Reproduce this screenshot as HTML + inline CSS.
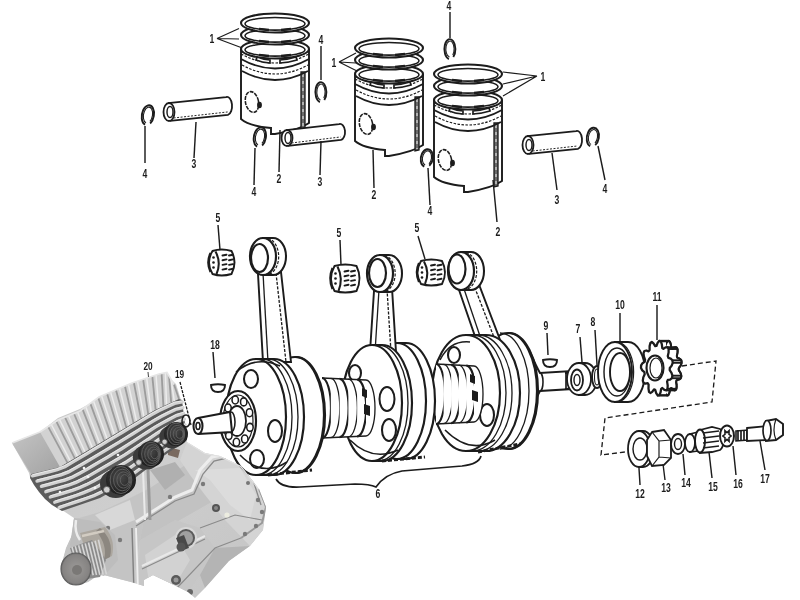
<!DOCTYPE html>
<html><head><meta charset="utf-8"><style>
html,body{margin:0;padding:0;background:#fff;width:800px;height:600px;overflow:hidden}
svg{display:block;will-change:transform}
.lb{font-family:"Liberation Sans",sans-serif;font-weight:bold;fill:#1c1c1c}
</style></head><body>
<svg width="800" height="600" viewBox="0 0 800 600">
<rect width="800" height="600" fill="#fff"/>
<g transform="translate(241,14)">
<path d="M0,35 L0,105 Q8,112 30,114 L30,120 L34,120 Q58,116 68,109 L68,35" stroke="#1c1c1c" stroke-width="1.92" fill="#fff" />
<path d="M60,58 L60,115 L64,114 L64,58 Z" fill="#6a6a6a" stroke="#1c1c1c" stroke-width="1.32"/>
<path d="M62,60 L62,113" stroke="#fff" stroke-width="0.96" stroke-dasharray="3 4"/>
<ellipse cx="34" cy="35" rx="34" ry="9.5" stroke="#1c1c1c" stroke-width="2.04" fill="#fff" />
<ellipse cx="34" cy="35.8" rx="30" ry="6.3" stroke="#1c1c1c" stroke-width="1.56" fill="none" />
<path d="M18,41 L28,42 M40,42 L50,41" stroke="#1c1c1c" stroke-width="2.40" fill="none" />
<path d="M0,40 Q34,58 68,40" stroke="#1c1c1c" stroke-width="1.20" fill="none" stroke-dasharray="2.5 1.5"/>
<path d="M0,45 Q34,64 68,45" stroke="#1c1c1c" stroke-width="1.80" fill="none" />
<path d="M1,51 Q34,69 67,51" stroke="#1c1c1c" stroke-width="1.20" fill="none" stroke-dasharray="2.5 1.5"/>
<path d="M1,57 Q34,75 67,57" stroke="#1c1c1c" stroke-width="1.80" fill="none" />
<path d="M16,43 Q22,45.5 29,46 L29,49 Q21,48.5 15,46 Z" stroke="#1c1c1c" stroke-width="1.68" fill="#fff" />
<path d="M39,46 Q47,45.5 55,43 L56,46 Q48,48.5 39,49 Z" stroke="#1c1c1c" stroke-width="1.68" fill="#fff" />
<ellipse cx="34" cy="21" rx="34" ry="9.5" stroke="#1c1c1c" stroke-width="2.04" fill="#fff" />
<ellipse cx="34" cy="21.8" rx="30" ry="6.3" stroke="#1c1c1c" stroke-width="1.56" fill="none" />
<path d="M18,27 L28,28 M40,28 L50,27" stroke="#1c1c1c" stroke-width="2.40" fill="none" />
<ellipse cx="34" cy="9" rx="34" ry="9.5" stroke="#1c1c1c" stroke-width="2.04" fill="#fff" />
<ellipse cx="34" cy="9.8" rx="30" ry="6.3" stroke="#1c1c1c" stroke-width="1.56" fill="none" />
<path d="M18,15 L28,16 M40,16 L50,15" stroke="#1c1c1c" stroke-width="2.40" fill="none" />
<ellipse cx="11" cy="88" rx="6.5" ry="10.5" stroke="#1c1c1c" stroke-width="1.56" fill="#fff" transform="rotate(-12 11 88)" stroke-dasharray="4 1"/>
<ellipse cx="18.5" cy="91" rx="1.8" ry="2.6" stroke="#1c1c1c" stroke-width="1.20" fill="#1c1c1c" />
</g>
<g transform="translate(355,39)">
<path d="M0,35 L0,102 Q8,109 30,111 L30,117 L34,117 Q58,113 68,106 L68,35" stroke="#1c1c1c" stroke-width="1.92" fill="#fff" />
<path d="M60,58 L60,112 L64,111 L64,58 Z" fill="#6a6a6a" stroke="#1c1c1c" stroke-width="1.32"/>
<path d="M62,60 L62,110" stroke="#fff" stroke-width="0.96" stroke-dasharray="3 4"/>
<ellipse cx="34" cy="35" rx="34" ry="9.5" stroke="#1c1c1c" stroke-width="2.04" fill="#fff" />
<ellipse cx="34" cy="35.8" rx="30" ry="6.3" stroke="#1c1c1c" stroke-width="1.56" fill="none" />
<path d="M18,41 L28,42 M40,42 L50,41" stroke="#1c1c1c" stroke-width="2.40" fill="none" />
<path d="M0,40 Q34,58 68,40" stroke="#1c1c1c" stroke-width="1.20" fill="none" stroke-dasharray="2.5 1.5"/>
<path d="M0,45 Q34,64 68,45" stroke="#1c1c1c" stroke-width="1.80" fill="none" />
<path d="M1,51 Q34,69 67,51" stroke="#1c1c1c" stroke-width="1.20" fill="none" stroke-dasharray="2.5 1.5"/>
<path d="M1,57 Q34,75 67,57" stroke="#1c1c1c" stroke-width="1.80" fill="none" />
<path d="M16,43 Q22,45.5 29,46 L29,49 Q21,48.5 15,46 Z" stroke="#1c1c1c" stroke-width="1.68" fill="#fff" />
<path d="M39,46 Q47,45.5 55,43 L56,46 Q48,48.5 39,49 Z" stroke="#1c1c1c" stroke-width="1.68" fill="#fff" />
<ellipse cx="34" cy="21" rx="34" ry="9.5" stroke="#1c1c1c" stroke-width="2.04" fill="#fff" />
<ellipse cx="34" cy="21.8" rx="30" ry="6.3" stroke="#1c1c1c" stroke-width="1.56" fill="none" />
<path d="M18,27 L28,28 M40,28 L50,27" stroke="#1c1c1c" stroke-width="2.40" fill="none" />
<ellipse cx="34" cy="9" rx="34" ry="9.5" stroke="#1c1c1c" stroke-width="2.04" fill="#fff" />
<ellipse cx="34" cy="9.8" rx="30" ry="6.3" stroke="#1c1c1c" stroke-width="1.56" fill="none" />
<path d="M18,15 L28,16 M40,16 L50,15" stroke="#1c1c1c" stroke-width="2.40" fill="none" />
<ellipse cx="11" cy="85" rx="6.5" ry="10.5" stroke="#1c1c1c" stroke-width="1.56" fill="#fff" transform="rotate(-12 11 85)" stroke-dasharray="4 1"/>
<ellipse cx="18.5" cy="88" rx="1.8" ry="2.6" stroke="#1c1c1c" stroke-width="1.20" fill="#1c1c1c" />
</g>
<g transform="translate(434,65)">
<path d="M0,35 L0,112 Q8,119 30,121 L30,127 L34,127 Q58,123 68,116 L68,35" stroke="#1c1c1c" stroke-width="1.92" fill="#fff" />
<path d="M60,58 L60,122 L64,121 L64,58 Z" fill="#6a6a6a" stroke="#1c1c1c" stroke-width="1.32"/>
<path d="M62,60 L62,120" stroke="#fff" stroke-width="0.96" stroke-dasharray="3 4"/>
<ellipse cx="34" cy="35" rx="34" ry="9.5" stroke="#1c1c1c" stroke-width="2.04" fill="#fff" />
<ellipse cx="34" cy="35.8" rx="30" ry="6.3" stroke="#1c1c1c" stroke-width="1.56" fill="none" />
<path d="M18,41 L28,42 M40,42 L50,41" stroke="#1c1c1c" stroke-width="2.40" fill="none" />
<path d="M0,40 Q34,58 68,40" stroke="#1c1c1c" stroke-width="1.20" fill="none" stroke-dasharray="2.5 1.5"/>
<path d="M0,45 Q34,64 68,45" stroke="#1c1c1c" stroke-width="1.80" fill="none" />
<path d="M1,51 Q34,69 67,51" stroke="#1c1c1c" stroke-width="1.20" fill="none" stroke-dasharray="2.5 1.5"/>
<path d="M1,57 Q34,75 67,57" stroke="#1c1c1c" stroke-width="1.80" fill="none" />
<path d="M16,43 Q22,45.5 29,46 L29,49 Q21,48.5 15,46 Z" stroke="#1c1c1c" stroke-width="1.68" fill="#fff" />
<path d="M39,46 Q47,45.5 55,43 L56,46 Q48,48.5 39,49 Z" stroke="#1c1c1c" stroke-width="1.68" fill="#fff" />
<ellipse cx="34" cy="21" rx="34" ry="9.5" stroke="#1c1c1c" stroke-width="2.04" fill="#fff" />
<ellipse cx="34" cy="21.8" rx="30" ry="6.3" stroke="#1c1c1c" stroke-width="1.56" fill="none" />
<path d="M18,27 L28,28 M40,28 L50,27" stroke="#1c1c1c" stroke-width="2.40" fill="none" />
<ellipse cx="34" cy="9" rx="34" ry="9.5" stroke="#1c1c1c" stroke-width="2.04" fill="#fff" />
<ellipse cx="34" cy="9.8" rx="30" ry="6.3" stroke="#1c1c1c" stroke-width="1.56" fill="none" />
<path d="M18,15 L28,16 M40,16 L50,15" stroke="#1c1c1c" stroke-width="2.40" fill="none" />
<ellipse cx="11" cy="95" rx="6.5" ry="10.5" stroke="#1c1c1c" stroke-width="1.56" fill="#fff" transform="rotate(-12 11 95)" stroke-dasharray="4 1"/>
<ellipse cx="18.5" cy="98" rx="1.8" ry="2.6" stroke="#1c1c1c" stroke-width="1.20" fill="#1c1c1c" />
</g>
<text transform="translate(212,42.5) scale(0.72,1)" font-size="12" text-anchor="middle" class="lb">1</text>
<path d="M217,38.5 L239,28.5 M217,38.5 L239,39 M217,38.5 L241,47.5" stroke="#1c1c1c" stroke-width="1.20" fill="none" />
<text transform="translate(334,66.5) scale(0.72,1)" font-size="12" text-anchor="middle" class="lb">1</text>
<path d="M339,62 L356,53 M339,62 L356,63 M339,62 L357,71" stroke="#1c1c1c" stroke-width="1.20" fill="none" />
<text transform="translate(543,81) scale(0.72,1)" font-size="12" text-anchor="middle" class="lb">1</text>
<path d="M537,76 L503,72 M537,76 L503,84 M537,76 L503,96" stroke="#1c1c1c" stroke-width="1.20" fill="none" />
<path d="M146.8,125 A6,10 0 1 1 151.6,123.0" transform="rotate(10 148 115)" stroke="#1c1c1c" stroke-width="1.92" fill="none"/>
<path d="M147.4,123.0 A4.5,8.0 0 1 1 151.0,121.0" transform="rotate(10 148 115)" stroke="#1c1c1c" stroke-width="1.08" fill="none"/>
<line x1="145" y1="126" x2="145" y2="163" stroke="#1c1c1c" stroke-width="1.44"/>
<text transform="translate(145,178) scale(0.72,1)" font-size="12" text-anchor="middle" class="lb">4</text>
<path d="M258.8,147 A6,10 0 1 1 263.6,145.0" transform="rotate(10 260 137)" stroke="#1c1c1c" stroke-width="1.92" fill="none"/>
<path d="M259.4,145.0 A4.5,8.0 0 1 1 263.0,143.0" transform="rotate(10 260 137)" stroke="#1c1c1c" stroke-width="1.08" fill="none"/>
<line x1="255" y1="148" x2="254" y2="185" stroke="#1c1c1c" stroke-width="1.44"/>
<text transform="translate(254,196) scale(0.72,1)" font-size="12" text-anchor="middle" class="lb">4</text>
<path d="M319.9,102 A5.5,10 0 1 1 324.3,100.0" transform="rotate(0 321 92)" stroke="#1c1c1c" stroke-width="1.92" fill="none"/>
<path d="M320.45,100.0 A4.125,8.0 0 1 1 323.75,98.0" transform="rotate(0 321 92)" stroke="#1c1c1c" stroke-width="1.08" fill="none"/>
<line x1="321" y1="46" x2="321" y2="80" stroke="#1c1c1c" stroke-width="1.44"/>
<text transform="translate(321,44) scale(0.72,1)" font-size="12" text-anchor="middle" class="lb">4</text>
<path d="M448.9,59 A5.5,10 0 1 1 453.3,57.0" transform="rotate(0 450 49)" stroke="#1c1c1c" stroke-width="1.92" fill="none"/>
<path d="M449.45,57.0 A4.125,8.0 0 1 1 452.75,55.0" transform="rotate(0 450 49)" stroke="#1c1c1c" stroke-width="1.08" fill="none"/>
<line x1="450" y1="12" x2="450" y2="38" stroke="#1c1c1c" stroke-width="1.44"/>
<text transform="translate(449,10) scale(0.72,1)" font-size="12" text-anchor="middle" class="lb">4</text>
<path d="M425.8,167 A6,9 0 1 1 430.6,165.2" transform="rotate(10 427 158)" stroke="#1c1c1c" stroke-width="1.92" fill="none"/>
<path d="M426.4,165.2 A4.5,7.2 0 1 1 430.0,163.4" transform="rotate(10 427 158)" stroke="#1c1c1c" stroke-width="1.08" fill="none"/>
<line x1="428" y1="168" x2="430" y2="205" stroke="#1c1c1c" stroke-width="1.44"/>
<text transform="translate(430,215) scale(0.72,1)" font-size="12" text-anchor="middle" class="lb">4</text>
<path d="M591.8,146.5 A6,9.5 0 1 1 596.6,144.6" transform="rotate(10 593 137)" stroke="#1c1c1c" stroke-width="1.92" fill="none"/>
<path d="M592.4,144.6 A4.5,7.6000000000000005 0 1 1 596.0,142.7" transform="rotate(10 593 137)" stroke="#1c1c1c" stroke-width="1.08" fill="none"/>
<line x1="598" y1="146" x2="605" y2="180" stroke="#1c1c1c" stroke-width="1.44"/>
<text transform="translate(605,193) scale(0.72,1)" font-size="12" text-anchor="middle" class="lb">4</text>
<path d="M168.07390764023046,103.04777385556103 L226.07390764023046,97.04777385556103 A5,9 0 0 1 227.92609235976954,114.95222614443897 L169.92609235976954,120.95222614443897" stroke="#1c1c1c" stroke-width="1.80" fill="#fff"/>
<ellipse cx="169" cy="112" rx="5.5" ry="9" stroke="#1c1c1c" stroke-width="1.80" fill="#fff" />
<ellipse cx="170" cy="112" rx="3" ry="5.5" stroke="#1c1c1c" stroke-width="1.44" fill="#fff" />
<path d="M173.61739490651303,117.96815076295931 L227.61739490651303,111.96815076295931" stroke="#1c1c1c" stroke-width="0.96" stroke-dasharray="2 1.5" fill="none"/>
<line x1="196" y1="122" x2="194" y2="158" stroke="#1c1c1c" stroke-width="1.44"/>
<text transform="translate(194,168) scale(0.72,1)" font-size="12" text-anchor="middle" class="lb">3</text>
<path d="M286.1000878777525,130.05077625348034 L339.1000878777525,124.05077625348035 A5,8 0 0 1 340.8999121222475,139.94922374651966 L287.8999121222475,145.94922374651966" stroke="#1c1c1c" stroke-width="1.80" fill="#fff"/>
<ellipse cx="287" cy="138" rx="5.5" ry="8" stroke="#1c1c1c" stroke-width="1.80" fill="#fff" />
<ellipse cx="288" cy="138" rx="3" ry="5.5" stroke="#1c1c1c" stroke-width="1.44" fill="#fff" />
<path d="M291.5624450764047,142.96826484157478 L340.5624450764047,136.96826484157478" stroke="#1c1c1c" stroke-width="0.96" stroke-dasharray="2 1.5" fill="none"/>
<line x1="321" y1="141" x2="320" y2="175" stroke="#1c1c1c" stroke-width="1.44"/>
<text transform="translate(320,186) scale(0.72,1)" font-size="12" text-anchor="middle" class="lb">3</text>
<path d="M527.0863768078794,136.0464927172186 L576.0863768078794,131.0464927172186 A5,9 0 0 1 577.9136231921206,148.9535072827814 L528.9136231921206,153.9535072827814" stroke="#1c1c1c" stroke-width="1.80" fill="#fff"/>
<ellipse cx="528" cy="145" rx="5.5" ry="9" stroke="#1c1c1c" stroke-width="1.80" fill="#fff" />
<ellipse cx="529" cy="145" rx="3" ry="5.5" stroke="#1c1c1c" stroke-width="1.44" fill="#fff" />
<path d="M532.6090821280803,150.9690048551876 L577.6090821280803,145.9690048551876" stroke="#1c1c1c" stroke-width="0.96" stroke-dasharray="2 1.5" fill="none"/>
<line x1="552" y1="153" x2="557" y2="190" stroke="#1c1c1c" stroke-width="1.44"/>
<text transform="translate(557,204) scale(0.72,1)" font-size="12" text-anchor="middle" class="lb">3</text>
<line x1="280" y1="130" x2="279" y2="172" stroke="#1c1c1c" stroke-width="1.44"/>
<text transform="translate(279,183) scale(0.72,1)" font-size="12" text-anchor="middle" class="lb">2</text>
<line x1="373" y1="150" x2="374" y2="188" stroke="#1c1c1c" stroke-width="1.44"/>
<text transform="translate(374,199) scale(0.72,1)" font-size="12" text-anchor="middle" class="lb">2</text>
<line x1="493" y1="180" x2="497" y2="222" stroke="#1c1c1c" stroke-width="1.44"/>
<text transform="translate(498,236) scale(0.72,1)" font-size="12" text-anchor="middle" class="lb">2</text>
<path d="M530,352 Q536,366 540,373 L572,371 L572,389 L540,391 Q536,398 530,415 Z" stroke="#1c1c1c" stroke-width="1.92" fill="#fff"/>
<path d="M540,373 A3,9 0 0 1 540,391" stroke="#1c1c1c" stroke-width="1.56" fill="none"/>
<path d="M565,373 L580,372 L580,388 L565,389" stroke="#1c1c1c" stroke-width="1.80" fill="#fff"/>
<line x1="566" y1="373" x2="566" y2="388" stroke="#1c1c1c" stroke-width="1.68"/>
<line x1="569" y1="373" x2="569" y2="388" stroke="#1c1c1c" stroke-width="1.68"/>
<line x1="572" y1="373" x2="572" y2="388" stroke="#1c1c1c" stroke-width="1.68"/>
<line x1="575" y1="373" x2="575" y2="388" stroke="#1c1c1c" stroke-width="1.68"/>
<line x1="578" y1="373" x2="578" y2="388" stroke="#1c1c1c" stroke-width="1.68"/>
<path d="M508,333 L509,333 A29,58 0 0 1 509,449 L508,449 A29,58 0 0 1 508,333 Z" stroke="#1c1c1c" stroke-width="2.16" fill="#fff"/>
<path d="M508,333 A29,58 0 0 1 508,449" stroke="#1c1c1c" stroke-width="2.16" fill="none"/>
<path d="M500,333 A29,58 0 0 1 500,449" stroke="#1c1c1c" stroke-width="1.32" fill="none"/>
<path d="M458,287 L478,345 L502,345 L478,282 Z" stroke="#1c1c1c" stroke-width="1.92" fill="#fff"/>
<path d="M463,286 L483,345" stroke="#1c1c1c" stroke-width="1.32" fill="none"/>
<path d="M473,283 L497,345" stroke="#1c1c1c" stroke-width="1.32" fill="none" stroke-dasharray="3 1.5"/>
<path d="M461,252 L471,252 A13,19 0 0 1 471,290 L461,290 Z" stroke="#1c1c1c" stroke-width="2.04" fill="#fff"/>
<path d="M466.0,252.3 A13,19 0 0 1 466.0,289.7" stroke="#1c1c1c" stroke-width="1.20" fill="none" stroke-dasharray="3 1.5"/>
<ellipse cx="461" cy="271" rx="13" ry="19" stroke="#1c1c1c" stroke-width="2.16" fill="#fff" />
<ellipse cx="457" cy="269" rx="8.5" ry="14.5" stroke="#1c1c1c" stroke-width="2.16" fill="#fff" />
<path d="M466,335 L486,335 A34,58 0 0 1 486,451 L466,451 A34,58 0 0 1 466,335 Z" stroke="#1c1c1c" stroke-width="2.16" fill="#fff"/>
<path d="M466,335 A34,58 0 0 1 466,451" stroke="#1c1c1c" stroke-width="2.16" fill="none"/>
<path d="M472,335 A34,58 0 0 1 472,451" stroke="#1c1c1c" stroke-width="1.32" fill="none"/>
<path d="M478,335 A34,58 0 0 1 478,451" stroke="#1c1c1c" stroke-width="1.32" fill="none"/>
<path d="M478,452 L520,444" stroke="#1c1c1c" stroke-width="2.88" stroke-dasharray="4 2" fill="none"/>
<ellipse cx="454" cy="355" rx="6" ry="8" stroke="#1c1c1c" stroke-width="2.04" fill="#fff" />
<ellipse cx="487" cy="415" rx="7" ry="11" stroke="#1c1c1c" stroke-width="2.04" fill="#fff" />
<path d="M440,360 Q450,340 470,342" stroke="#1c1c1c" stroke-width="1.56" fill="none"/>
<path d="M445,430 Q470,455 495,440" stroke="#1c1c1c" stroke-width="1.56" fill="none"/>
<path d="M436,364 L474,366 L474,422 L436,424 Z" fill="#fff" stroke="none"/>
<path d="M436.0,364.0 A9,30.0 0 0 1 436.0,424.0" stroke="#1c1c1c" stroke-width="2.16" fill="#fff"/>
<path d="M443.6,364.4 A9,29.6 0 0 1 443.6,423.6" stroke="#1c1c1c" stroke-width="1.32" fill="#fff"/>
<path d="M451.2,364.8 A9,29.2 0 0 1 451.2,423.2" stroke="#1c1c1c" stroke-width="2.16" fill="#fff"/>
<path d="M458.8,365.2 A9,28.8 0 0 1 458.8,422.8" stroke="#1c1c1c" stroke-width="1.32" fill="#fff"/>
<path d="M466.4,365.6 A9,28.4 0 0 1 466.4,422.4" stroke="#1c1c1c" stroke-width="2.16" fill="#fff"/>
<path d="M474.0,366.0 A9,28.0 0 0 1 474.0,422.0" stroke="#1c1c1c" stroke-width="1.32" fill="#fff"/>
<path d="M436,364 L474,366 M436,424 L474,422" stroke="#1c1c1c" stroke-width="1.68" fill="none"/>
<path d="M470,374 l5,2 l0,8 l-5,-2 Z M472,390 l6,2 l0,10 l-6,-2 Z" fill="#1c1c1c"/>
<path d="M397,343 L406,343 A29,58 0 0 1 406,459 L397,459 A29,58 0 0 1 397,343 Z" stroke="#1c1c1c" stroke-width="2.16" fill="#fff"/>
<path d="M397,343 A29,58 0 0 1 397,459" stroke="#1c1c1c" stroke-width="2.16" fill="none"/>
<path d="M374,291 L370,352 L396,352 L392,288 Z" stroke="#1c1c1c" stroke-width="1.92" fill="#fff"/>
<path d="M379,290 L375,352" stroke="#1c1c1c" stroke-width="1.32" fill="none"/>
<path d="M387,289 L391,352" stroke="#1c1c1c" stroke-width="1.32" fill="none" stroke-dasharray="3 1.5"/>
<path d="M380,255.0 L389,255.0 A13,18.5 0 0 1 389,292.0 L380,292.0 Z" stroke="#1c1c1c" stroke-width="2.04" fill="#fff"/>
<path d="M384.5,255.3 A13,18.5 0 0 1 384.5,291.7" stroke="#1c1c1c" stroke-width="1.20" fill="none" stroke-dasharray="3 1.5"/>
<ellipse cx="380" cy="273.5" rx="13" ry="18.5" stroke="#1c1c1c" stroke-width="2.16" fill="#fff" />
<ellipse cx="377.5" cy="273" rx="8.5" ry="14" stroke="#1c1c1c" stroke-width="2.16" fill="#fff" />
<path d="M372,345 L382,345 A30,58 0 0 1 382,461 L372,461 A30,58 0 0 1 372,345 Z" stroke="#1c1c1c" stroke-width="2.16" fill="#fff"/>
<path d="M372,345 A30,58 0 0 1 372,461" stroke="#1c1c1c" stroke-width="2.16" fill="none"/>
<path d="M378,345 A30,58 0 0 1 378,461" stroke="#1c1c1c" stroke-width="1.32" fill="none"/>
<path d="M382,461 L425,457" stroke="#1c1c1c" stroke-width="2.88" stroke-dasharray="4 2" fill="none"/>
<ellipse cx="355" cy="373" rx="6" ry="8" stroke="#1c1c1c" stroke-width="2.04" fill="#fff" />
<ellipse cx="387" cy="399" rx="7.5" ry="12" stroke="#1c1c1c" stroke-width="2.04" fill="#fff" />
<ellipse cx="389" cy="430" rx="7" ry="11" stroke="#1c1c1c" stroke-width="2.04" fill="#fff" />
<path d="M350,440 Q372,462 398,450" stroke="#1c1c1c" stroke-width="1.56" fill="none"/>
<path d="M322,378 L366,380 L366,436 L322,438 Z" fill="#fff" stroke="none"/>
<path d="M322.0,378.0 A9,30.0 0 0 1 322.0,438.0" stroke="#1c1c1c" stroke-width="2.16" fill="#fff"/>
<path d="M330.8,378.4 A9,29.6 0 0 1 330.8,437.6" stroke="#1c1c1c" stroke-width="1.32" fill="#fff"/>
<path d="M339.6,378.8 A9,29.2 0 0 1 339.6,437.2" stroke="#1c1c1c" stroke-width="2.16" fill="#fff"/>
<path d="M348.4,379.2 A9,28.8 0 0 1 348.4,436.8" stroke="#1c1c1c" stroke-width="1.32" fill="#fff"/>
<path d="M357.2,379.6 A9,28.4 0 0 1 357.2,436.4" stroke="#1c1c1c" stroke-width="2.16" fill="#fff"/>
<path d="M366.0,380.0 A9,28.0 0 0 1 366.0,436.0" stroke="#1c1c1c" stroke-width="1.32" fill="#fff"/>
<path d="M322,378 L366,380 M322,438 L366,436" stroke="#1c1c1c" stroke-width="1.68" fill="none"/>
<path d="M362,388 l5,2 l0,8 l-5,-2 Z M364,404 l6,2 l0,10 l-6,-2 Z" fill="#1c1c1c"/>
<path d="M295,357 L296,357 A29,58 0 0 1 296,473 L295,473 A29,58 0 0 1 295,357 Z" stroke="#1c1c1c" stroke-width="2.16" fill="#fff"/>
<path d="M295,357 A29,58 0 0 1 295,473" stroke="#1c1c1c" stroke-width="2.16" fill="none"/>
<path d="M258,274 L263,362 L291,362 L281,272 Z" stroke="#1c1c1c" stroke-width="1.92" fill="#fff"/>
<path d="M263,273 L268,362" stroke="#1c1c1c" stroke-width="1.32" fill="none"/>
<path d="M276,273 L286,362" stroke="#1c1c1c" stroke-width="1.32" fill="none" stroke-dasharray="3 1.5"/>
<path d="M263,238.0 L273,238.0 A13,18.5 0 0 1 273,275.0 L263,275.0 Z" stroke="#1c1c1c" stroke-width="2.04" fill="#fff"/>
<path d="M268.0,238.3 A13,18.5 0 0 1 268.0,274.7" stroke="#1c1c1c" stroke-width="1.20" fill="none" stroke-dasharray="3 1.5"/>
<ellipse cx="263" cy="256.5" rx="13" ry="18.5" stroke="#1c1c1c" stroke-width="2.16" fill="#fff" />
<ellipse cx="259.5" cy="258" rx="8.5" ry="14" stroke="#1c1c1c" stroke-width="2.16" fill="#fff" />
<path d="M256,359 L274,359 A30,58 0 0 1 274,475 L256,475 A30,58 0 0 1 256,359 Z" stroke="#1c1c1c" stroke-width="2.16" fill="#fff"/>
<path d="M256,359 A30,58 0 0 1 256,475" stroke="#1c1c1c" stroke-width="2.16" fill="none"/>
<path d="M262,359 A30,58 0 0 1 262,475" stroke="#1c1c1c" stroke-width="1.32" fill="none"/>
<path d="M268,359 A30,58 0 0 1 268,475" stroke="#1c1c1c" stroke-width="1.32" fill="none"/>
<path d="M268,475 L312,470" stroke="#1c1c1c" stroke-width="2.88" stroke-dasharray="4 2" fill="none"/>
<ellipse cx="251" cy="379" rx="7" ry="9" stroke="#1c1c1c" stroke-width="2.04" fill="#fff" />
<ellipse cx="275" cy="431" rx="7" ry="11" stroke="#1c1c1c" stroke-width="2.04" fill="#fff" />
<ellipse cx="257" cy="459" rx="7" ry="9" stroke="#1c1c1c" stroke-width="2.04" fill="#fff" />
<path d="M236,372 Q256,355 280,366" stroke="#1c1c1c" stroke-width="1.56" fill="none"/>
<path d="M240,455 Q262,478 287,462" stroke="#1c1c1c" stroke-width="1.56" fill="none"/>
<ellipse cx="238" cy="421" rx="18" ry="30" stroke="#1c1c1c" stroke-width="2.16" fill="#fff" />
<ellipse cx="238" cy="421" rx="15" ry="26" stroke="#1c1c1c" stroke-width="1.20" fill="none" />
<ellipse cx="249.9417061140701" cy="427.3536844432188" rx="3.2" ry="4" stroke="#1c1c1c" stroke-width="1.56" fill="#fff" />
<ellipse cx="244.7734185193694" cy="439.0698915143239" rx="3.2" ry="4" stroke="#1c1c1c" stroke-width="1.56" fill="#fff" />
<ellipse cx="236.4357731212941" cy="442.33099552140243" rx="3.2" ry="4" stroke="#1c1c1c" stroke-width="1.56" fill="#fff" />
<ellipse cx="228.83004686421063" cy="435.61108965640835" rx="3.2" ry="4" stroke="#1c1c1c" stroke-width="1.56" fill="#fff" />
<ellipse cx="225.51504359204012" cy="422.05449255700717" rx="3.2" ry="4" stroke="#1c1c1c" stroke-width="1.56" fill="#fff" />
<ellipse cx="228.04189017798868" cy="408.004486670803" rx="3.2" ry="4" stroke="#1c1c1c" stroke-width="1.56" fill="#fff" />
<ellipse cx="235.22824702171928" cy="400.0352259003729" rx="3.2" ry="4" stroke="#1c1c1c" stroke-width="1.56" fill="#fff" />
<ellipse cx="243.71153788859053" cy="401.87561592866894" rx="3.2" ry="4" stroke="#1c1c1c" stroke-width="1.56" fill="#fff" />
<ellipse cx="249.52233670071723" cy="412.6645178077946" rx="3.2" ry="4" stroke="#1c1c1c" stroke-width="1.56" fill="#fff" />
<ellipse cx="237" cy="421" rx="9" ry="15" stroke="#1c1c1c" stroke-width="1.80" fill="#fff" />
<path d="M198,418 L230,412 L232,432 L198,434" stroke="#1c1c1c" stroke-width="2.04" fill="#fff"/>
<path d="M231,412 A4,10 0 0 1 231,432" stroke="#1c1c1c" stroke-width="1.56" fill="none"/>
<ellipse cx="198" cy="426" rx="4.5" ry="8" stroke="#1c1c1c" stroke-width="2.04" fill="#fff" />
<ellipse cx="198" cy="426" rx="2" ry="3.5" stroke="#1c1c1c" stroke-width="1.56" fill="#fff" />
<path d="M212.5,251.0 Q221.5,248.0 231.5,251.0 Q237.5,262.5 231.5,274.0 Q221.5,277.0 212.5,274.0 Q205.5,262.5 212.5,251.0 Z" stroke="#1c1c1c" stroke-width="1.92" fill="#fff"/>
<path d="M210.5,253.0 Q206.0,262.5 210.5,272.0" stroke="#1c1c1c" stroke-width="2.16" fill="none"/>
<path d="M215.5,251.5 Q221.5,262.5 216.5,274.0" stroke="#1c1c1c" stroke-width="2.04" fill="none"/>
<circle cx="213.5" cy="257.5" r="1.3" fill="#1c1c1c"/>
<circle cx="213.5" cy="262.5" r="1.3" fill="#1c1c1c"/>
<circle cx="213.5" cy="267.5" r="1.3" fill="#1c1c1c"/>
<path d="M222.5,255.5 l4,-0.8" stroke="#1c1c1c" stroke-width="1.92" stroke-linecap="round"/>
<path d="M229.0,255.5 l4,-0.8" stroke="#1c1c1c" stroke-width="1.92" stroke-linecap="round"/>
<path d="M222.5,260.2 l4,-0.8" stroke="#1c1c1c" stroke-width="1.92" stroke-linecap="round"/>
<path d="M229.0,260.2 l4,-0.8" stroke="#1c1c1c" stroke-width="1.92" stroke-linecap="round"/>
<path d="M222.5,264.9 l4,-0.8" stroke="#1c1c1c" stroke-width="1.92" stroke-linecap="round"/>
<path d="M229.0,264.9 l4,-0.8" stroke="#1c1c1c" stroke-width="1.92" stroke-linecap="round"/>
<path d="M222.5,269.6 l4,-0.8" stroke="#1c1c1c" stroke-width="1.92" stroke-linecap="round"/>
<path d="M229.0,269.6 l4,-0.8" stroke="#1c1c1c" stroke-width="1.92" stroke-linecap="round"/>
<line x1="218" y1="225" x2="220" y2="250" stroke="#1c1c1c" stroke-width="1.44"/>
<text transform="translate(218,222) scale(0.72,1)" font-size="12" text-anchor="middle" class="lb">5</text>
<path d="M334.5,266.0 Q345,263.0 356.5,266.0 Q362.5,278.5 356.5,291.0 Q345,294.0 334.5,291.0 Q327.5,278.5 334.5,266.0 Z" stroke="#1c1c1c" stroke-width="1.92" fill="#fff"/>
<path d="M332.5,268.0 Q328.0,278.5 332.5,289.0" stroke="#1c1c1c" stroke-width="2.16" fill="none"/>
<path d="M337.5,266.5 Q343.5,278.5 338.5,291.0" stroke="#1c1c1c" stroke-width="2.04" fill="none"/>
<circle cx="335.5" cy="273.5" r="1.3" fill="#1c1c1c"/>
<circle cx="335.5" cy="278.5" r="1.3" fill="#1c1c1c"/>
<circle cx="335.5" cy="283.5" r="1.3" fill="#1c1c1c"/>
<path d="M344.5,271.5 l4,-0.8" stroke="#1c1c1c" stroke-width="1.92" stroke-linecap="round"/>
<path d="M351.0,271.5 l4,-0.8" stroke="#1c1c1c" stroke-width="1.92" stroke-linecap="round"/>
<path d="M344.5,276.2 l4,-0.8" stroke="#1c1c1c" stroke-width="1.92" stroke-linecap="round"/>
<path d="M351.0,276.2 l4,-0.8" stroke="#1c1c1c" stroke-width="1.92" stroke-linecap="round"/>
<path d="M344.5,280.9 l4,-0.8" stroke="#1c1c1c" stroke-width="1.92" stroke-linecap="round"/>
<path d="M351.0,280.9 l4,-0.8" stroke="#1c1c1c" stroke-width="1.92" stroke-linecap="round"/>
<path d="M344.5,285.6 l4,-0.8" stroke="#1c1c1c" stroke-width="1.92" stroke-linecap="round"/>
<path d="M351.0,285.6 l4,-0.8" stroke="#1c1c1c" stroke-width="1.92" stroke-linecap="round"/>
<line x1="340" y1="240" x2="341" y2="265" stroke="#1c1c1c" stroke-width="1.44"/>
<text transform="translate(339,237) scale(0.72,1)" font-size="12" text-anchor="middle" class="lb">5</text>
<path d="M421.0,261.0 Q431,258.0 442.0,261.0 Q448.0,272.5 442.0,284.0 Q431,287.0 421.0,284.0 Q414.0,272.5 421.0,261.0 Z" stroke="#1c1c1c" stroke-width="1.92" fill="#fff"/>
<path d="M419.0,263.0 Q414.5,272.5 419.0,282.0" stroke="#1c1c1c" stroke-width="2.16" fill="none"/>
<path d="M424.0,261.5 Q430.0,272.5 425.0,284.0" stroke="#1c1c1c" stroke-width="2.04" fill="none"/>
<circle cx="422.0" cy="267.5" r="1.3" fill="#1c1c1c"/>
<circle cx="422.0" cy="272.5" r="1.3" fill="#1c1c1c"/>
<circle cx="422.0" cy="277.5" r="1.3" fill="#1c1c1c"/>
<path d="M431.0,265.5 l4,-0.8" stroke="#1c1c1c" stroke-width="1.92" stroke-linecap="round"/>
<path d="M437.5,265.5 l4,-0.8" stroke="#1c1c1c" stroke-width="1.92" stroke-linecap="round"/>
<path d="M431.0,270.2 l4,-0.8" stroke="#1c1c1c" stroke-width="1.92" stroke-linecap="round"/>
<path d="M437.5,270.2 l4,-0.8" stroke="#1c1c1c" stroke-width="1.92" stroke-linecap="round"/>
<path d="M431.0,274.9 l4,-0.8" stroke="#1c1c1c" stroke-width="1.92" stroke-linecap="round"/>
<path d="M437.5,274.9 l4,-0.8" stroke="#1c1c1c" stroke-width="1.92" stroke-linecap="round"/>
<path d="M431.0,279.6 l4,-0.8" stroke="#1c1c1c" stroke-width="1.92" stroke-linecap="round"/>
<path d="M437.5,279.6 l4,-0.8" stroke="#1c1c1c" stroke-width="1.92" stroke-linecap="round"/>
<line x1="418" y1="236" x2="425" y2="259" stroke="#1c1c1c" stroke-width="1.44"/>
<text transform="translate(417,232) scale(0.72,1)" font-size="12" text-anchor="middle" class="lb">5</text>
<path d="M211,385 Q218,383.5 225,385 Q225,392 218,392 Q211,392 211,385 Z" stroke="#1c1c1c" stroke-width="1.92" fill="#fff" />
<line x1="213" y1="352" x2="215" y2="378" stroke="#1c1c1c" stroke-width="1.44"/>
<text transform="translate(215,349) scale(0.72,1)" font-size="12" text-anchor="middle" class="lb">18</text>
<path d="M543,360 Q550,358.5 557,360 Q557,367 550,367 Q543,367 543,360 Z" stroke="#1c1c1c" stroke-width="1.92" fill="#fff" />
<line x1="547" y1="333" x2="548" y2="355" stroke="#1c1c1c" stroke-width="1.44"/>
<text transform="translate(546,330) scale(0.72,1)" font-size="12" text-anchor="middle" class="lb">9</text>
<path d="M276,479 Q281,488 300,487 L355,484 Q370,484 376,487 Q385,474 402,471 L462,466 Q479,464 481,456" stroke="#1c1c1c" stroke-width="1.68" fill="none" />
<text transform="translate(378,498) scale(0.72,1)" font-size="12" text-anchor="middle" class="lb">6</text>
<path d="M579,363 L585,363 A12,16 0 0 1 585,395 L579,395 Z" stroke="#1c1c1c" stroke-width="1.80" fill="#fff"/>
<ellipse cx="579" cy="379" rx="12" ry="16" stroke="#1c1c1c" stroke-width="1.80" fill="#fff" />
<ellipse cx="577" cy="380" rx="6" ry="10.5" stroke="#1c1c1c" stroke-width="1.80" fill="#fff" />
<ellipse cx="577" cy="380" rx="3" ry="5.5" stroke="#1c1c1c" stroke-width="1.44" fill="#fff" />
<line x1="580" y1="337" x2="582" y2="362" stroke="#1c1c1c" stroke-width="1.44"/>
<text transform="translate(578,333) scale(0.72,1)" font-size="12" text-anchor="middle" class="lb">7</text>
<ellipse cx="597" cy="377" rx="5" ry="11" stroke="#1c1c1c" stroke-width="1.92" fill="#fff" />
<ellipse cx="597" cy="377" rx="2.5" ry="8" stroke="#1c1c1c" stroke-width="1.08" fill="none" />
<line x1="595" y1="330" x2="597" y2="365" stroke="#1c1c1c" stroke-width="1.44"/>
<text transform="translate(593,326) scale(0.72,1)" font-size="12" text-anchor="middle" class="lb">8</text>
<path d="M615,342 L628,342 A17,30 0 0 1 628,402 L615,402 Z" stroke="#1c1c1c" stroke-width="1.92" fill="#fff"/>
<path d="M621,343 A17,30 0 0 1 621,401" stroke="#1c1c1c" stroke-width="1.20" fill="none"/>
<ellipse cx="615" cy="372" rx="17" ry="30" stroke="#1c1c1c" stroke-width="1.92" fill="#fff" />
<ellipse cx="617" cy="372" rx="13" ry="24" stroke="#1c1c1c" stroke-width="1.44" fill="#fff" />
<ellipse cx="620" cy="372" rx="10" ry="19" stroke="#1c1c1c" stroke-width="1.92" fill="#fff" />
<line x1="620" y1="313" x2="620" y2="342" stroke="#1c1c1c" stroke-width="1.44"/>
<text transform="translate(620,309) scale(0.72,1)" font-size="12" text-anchor="middle" class="lb">10</text>
<path d="M678.8,368.0 L678.7,370.1 L680.5,372.8 L681.4,375.7 L680.9,378.2 L679.1,379.6 L676.8,379.9 L676.1,381.6 L676.7,385.5 L676.5,388.8 L675.3,390.4 L673.4,389.9 L671.3,388.0 L670.2,388.8 L669.5,392.6 L668.3,395.2 L666.8,395.5 L665.3,393.3 L664.2,389.8 L663.0,389.4 L661.2,391.9 L659.4,393.0 L658.0,391.8 L657.5,388.6 L657.6,384.6 L656.7,383.2 L654.4,383.6 L652.5,382.9 L651.8,380.6 L652.3,377.4 L653.7,374.2 L653.4,372.2 L651.3,370.4 L650.0,368.0 L650.1,365.4 L651.5,363.2 L653.7,361.8 L654.1,359.8 L652.9,356.4 L652.5,353.1 L653.4,351.0 L655.3,350.5 L657.6,351.4 L658.6,350.1 L658.6,346.1 L659.4,343.0 L660.8,342.0 L662.5,343.4 L664.2,346.2 L665.4,346.0 L666.7,342.7 L668.3,340.8 L669.8,341.3 L670.8,344.1 L671.3,348.0 L672.4,348.9 L674.5,347.4 L676.5,347.2 L677.6,349.0 L677.6,352.4 L676.8,356.1 L677.4,357.9 L679.7,358.6 L681.4,360.3 L681.7,362.8 L680.7,365.6 Z" stroke="#1c1c1c" stroke-width="1.92" fill="#fff" stroke-linejoin="round"/>
<path d="M657,340.5 L666,340.5 L666,395.5 L657,395.5 Z" fill="#fff"/>
<path d="M672.4,375.7 L681.4,375.7" stroke="#1c1c1c" stroke-width="1.92"/>
<path d="M671.9,378.2 L680.9,378.2" stroke="#1c1c1c" stroke-width="1.92"/>
<path d="M667.5,388.8 L676.5,388.8" stroke="#1c1c1c" stroke-width="1.92"/>
<path d="M666.3,390.4 L675.3,390.4" stroke="#1c1c1c" stroke-width="1.92"/>
<path d="M659.3,395.2 L668.3,395.2" stroke="#1c1c1c" stroke-width="1.92"/>
<path d="M657.8,395.5 L666.8,395.5" stroke="#1c1c1c" stroke-width="1.92"/>
<path d="M659.3,340.8 L668.3,340.8" stroke="#1c1c1c" stroke-width="1.92"/>
<path d="M660.8,341.3 L669.8,341.3" stroke="#1c1c1c" stroke-width="1.92"/>
<path d="M667.5,347.2 L676.5,347.2" stroke="#1c1c1c" stroke-width="1.92"/>
<path d="M668.6,349.0 L677.6,349.0" stroke="#1c1c1c" stroke-width="1.92"/>
<path d="M672.4,360.3 L681.4,360.3" stroke="#1c1c1c" stroke-width="1.92"/>
<path d="M672.7,362.8 L681.7,362.8" stroke="#1c1c1c" stroke-width="1.92"/>
<path d="M678.8,368.0 L678.7,370.1" stroke="#1c1c1c" stroke-width="2.04"/>
<path d="M678.7,370.1 L680.5,372.8" stroke="#1c1c1c" stroke-width="2.04"/>
<path d="M680.5,372.8 L681.4,375.7" stroke="#1c1c1c" stroke-width="2.04"/>
<path d="M681.4,375.7 L680.9,378.2" stroke="#1c1c1c" stroke-width="2.04"/>
<path d="M680.9,378.2 L679.1,379.6" stroke="#1c1c1c" stroke-width="2.04"/>
<path d="M679.1,379.6 L676.8,379.9" stroke="#1c1c1c" stroke-width="2.04"/>
<path d="M676.8,379.9 L676.1,381.6" stroke="#1c1c1c" stroke-width="2.04"/>
<path d="M676.1,381.6 L676.7,385.5" stroke="#1c1c1c" stroke-width="2.04"/>
<path d="M676.7,385.5 L676.5,388.8" stroke="#1c1c1c" stroke-width="2.04"/>
<path d="M676.5,388.8 L675.3,390.4" stroke="#1c1c1c" stroke-width="2.04"/>
<path d="M675.3,390.4 L673.4,389.9" stroke="#1c1c1c" stroke-width="2.04"/>
<path d="M673.4,389.9 L671.3,388.0" stroke="#1c1c1c" stroke-width="2.04"/>
<path d="M671.3,388.0 L670.2,388.8" stroke="#1c1c1c" stroke-width="2.04"/>
<path d="M670.2,388.8 L669.5,392.6" stroke="#1c1c1c" stroke-width="2.04"/>
<path d="M669.5,392.6 L668.3,395.2" stroke="#1c1c1c" stroke-width="2.04"/>
<path d="M668.3,395.2 L666.8,395.5" stroke="#1c1c1c" stroke-width="2.04"/>
<path d="M668.3,340.8 L669.8,341.3" stroke="#1c1c1c" stroke-width="2.04"/>
<path d="M669.8,341.3 L670.8,344.1" stroke="#1c1c1c" stroke-width="2.04"/>
<path d="M670.8,344.1 L671.3,348.0" stroke="#1c1c1c" stroke-width="2.04"/>
<path d="M671.3,348.0 L672.4,348.9" stroke="#1c1c1c" stroke-width="2.04"/>
<path d="M672.4,348.9 L674.5,347.4" stroke="#1c1c1c" stroke-width="2.04"/>
<path d="M674.5,347.4 L676.5,347.2" stroke="#1c1c1c" stroke-width="2.04"/>
<path d="M676.5,347.2 L677.6,349.0" stroke="#1c1c1c" stroke-width="2.04"/>
<path d="M677.6,349.0 L677.6,352.4" stroke="#1c1c1c" stroke-width="2.04"/>
<path d="M677.6,352.4 L676.8,356.1" stroke="#1c1c1c" stroke-width="2.04"/>
<path d="M676.8,356.1 L677.4,357.9" stroke="#1c1c1c" stroke-width="2.04"/>
<path d="M677.4,357.9 L679.7,358.6" stroke="#1c1c1c" stroke-width="2.04"/>
<path d="M679.7,358.6 L681.4,360.3" stroke="#1c1c1c" stroke-width="2.04"/>
<path d="M681.4,360.3 L681.7,362.8" stroke="#1c1c1c" stroke-width="2.04"/>
<path d="M681.7,362.8 L680.7,365.6" stroke="#1c1c1c" stroke-width="2.04"/>
<path d="M680.7,365.6 L678.8,368.0" stroke="#1c1c1c" stroke-width="2.04"/>
<path d="M669.8,368.0 L669.7,370.1 L671.5,372.8 L672.4,375.7 L671.9,378.2 L670.1,379.6 L667.8,379.9 L667.1,381.6 L667.7,385.5 L667.5,388.8 L666.3,390.4 L664.4,389.9 L662.3,388.0 L661.2,388.8 L660.5,392.6 L659.3,395.2 L657.8,395.5 L656.3,393.3 L655.2,389.8 L654.0,389.4 L652.2,391.9 L650.4,393.0 L649.0,391.8 L648.5,388.6 L648.6,384.6 L647.7,383.2 L645.4,383.6 L643.5,382.9 L642.8,380.6 L643.3,377.4 L644.7,374.2 L644.4,372.2 L642.3,370.4 L641.0,368.0 L641.1,365.4 L642.5,363.2 L644.7,361.8 L645.1,359.8 L643.9,356.4 L643.5,353.1 L644.4,351.0 L646.3,350.5 L648.6,351.4 L649.6,350.1 L649.6,346.1 L650.4,343.0 L651.8,342.0 L653.5,343.4 L655.2,346.2 L656.4,346.0 L657.7,342.7 L659.3,340.8 L660.8,341.3 L661.8,344.1 L662.3,348.0 L663.4,348.9 L665.5,347.4 L667.5,347.2 L668.6,349.0 L668.6,352.4 L667.8,356.1 L668.4,357.9 L670.7,358.6 L672.4,360.3 L672.7,362.8 L671.7,365.6 Z" stroke="#1c1c1c" stroke-width="2.28" fill="#fff" stroke-linejoin="round"/>
<ellipse cx="655" cy="368" rx="8.5" ry="12.5" stroke="#1c1c1c" stroke-width="2.16" fill="#fff" />
<ellipse cx="656" cy="368" rx="6" ry="10" stroke="#1c1c1c" stroke-width="1.20" fill="none" />
<line x1="657" y1="305" x2="657" y2="340" stroke="#1c1c1c" stroke-width="1.44"/>
<text transform="translate(657,301) scale(0.72,1)" font-size="12" text-anchor="middle" class="lb">11</text>
<path d="M682,366 L716,361 L712,402 L605,418 L601,455 L625,452" stroke="#1c1c1c" stroke-width="1.32" fill="none" stroke-dasharray="5 3"/>
<path d="M639,431 L643,431 A11,18 0 0 1 643,467 L639,467 Z" stroke="#1c1c1c" stroke-width="1.80" fill="#fff"/>
<ellipse cx="639" cy="449" rx="11" ry="18" stroke="#1c1c1c" stroke-width="1.80" fill="#fff" />
<ellipse cx="640" cy="449" rx="7" ry="11" stroke="#1c1c1c" stroke-width="1.44" fill="#fff" />
<line x1="639" y1="468" x2="640" y2="485" stroke="#1c1c1c" stroke-width="1.44"/>
<text transform="translate(640,498) scale(0.72,1)" font-size="12" text-anchor="middle" class="lb">12</text>
<path d="M652,432 L664,430 L671,440 L671,458 L664,465 L652,466 L647,456 L647,440 Z" stroke="#1c1c1c" stroke-width="1.80" fill="#fff"/>
<path d="M652,432 L659,441 L659,457 L652,466 M659,441 L671,440 M659,457 L671,458" stroke="#1c1c1c" stroke-width="1.20" fill="none" />
<line x1="663" y1="464" x2="665" y2="480" stroke="#1c1c1c" stroke-width="1.44"/>
<text transform="translate(666,492) scale(0.72,1)" font-size="12" text-anchor="middle" class="lb">13</text>
<ellipse cx="678" cy="444" rx="7" ry="10" stroke="#1c1c1c" stroke-width="1.80" fill="#fff" />
<ellipse cx="678" cy="444" rx="3.5" ry="5.5" stroke="#1c1c1c" stroke-width="1.44" fill="#fff" />
<line x1="683" y1="454" x2="685" y2="475" stroke="#1c1c1c" stroke-width="1.44"/>
<text transform="translate(686,487) scale(0.72,1)" font-size="12" text-anchor="middle" class="lb">14</text>
<path d="M690,434 L698,432 A5,9 0 0 1 698,451 L690,452 Z" stroke="#1c1c1c" stroke-width="1.68" fill="#fff"/>
<ellipse cx="690" cy="443" rx="5" ry="9" stroke="#1c1c1c" stroke-width="1.80" fill="#fff" />
<path d="M700,430 L712,427 L720,429 A5,11 0 0 1 720,450 L712,452 L700,453 Z" stroke="#1c1c1c" stroke-width="1.80" fill="#fff"/>
<ellipse cx="700" cy="441" rx="5" ry="11.5" stroke="#1c1c1c" stroke-width="1.92" fill="#fff" />
<path d="M703,433 L719,431" stroke="#1c1c1c" stroke-width="1.56"/>
<path d="M703,438 L719,436" stroke="#1c1c1c" stroke-width="1.56"/>
<path d="M703,443 L719,441" stroke="#1c1c1c" stroke-width="1.56"/>
<path d="M703,448 L719,446" stroke="#1c1c1c" stroke-width="1.56"/>
<line x1="709" y1="452" x2="712" y2="478" stroke="#1c1c1c" stroke-width="1.44"/>
<text transform="translate(713,491) scale(0.72,1)" font-size="12" text-anchor="middle" class="lb">15</text>
<ellipse cx="727" cy="436" rx="7" ry="10.5" stroke="#1c1c1c" stroke-width="1.92" fill="#fff" />
<path d="M731.2,436.0 L729.0,437.7 L729.1,441.4 L727.0,439.4 L724.9,441.4 L725.0,437.7 L722.8,436.0 L725.0,434.3 L724.9,430.6 L727.0,432.6 L729.1,430.6 L729.0,434.3 Z" stroke="#1c1c1c" stroke-width="1.56" fill="#fff" />
<line x1="733" y1="446" x2="736" y2="475" stroke="#1c1c1c" stroke-width="1.44"/>
<text transform="translate(738,488) scale(0.72,1)" font-size="12" text-anchor="middle" class="lb">16</text>
<path d="M736,431 L748,430 L748,440 L736,441 Z" stroke="#1c1c1c" stroke-width="1.56" fill="#fff"/>
<line x1="738" y1="430" x2="738" y2="441" stroke="#1c1c1c" stroke-width="1.68"/>
<line x1="741" y1="430" x2="741" y2="441" stroke="#1c1c1c" stroke-width="1.68"/>
<line x1="744" y1="430" x2="744" y2="441" stroke="#1c1c1c" stroke-width="1.68"/>
<line x1="747" y1="430" x2="747" y2="441" stroke="#1c1c1c" stroke-width="1.68"/>
<path d="M747,428 L767,426 L767,440 L747,441 Z" stroke="#1c1c1c" stroke-width="1.80" fill="#fff"/>
<path d="M766,421 L776,419 L783,424 L783,435 L776,440 L766,441 Z" stroke="#1c1c1c" stroke-width="1.92" fill="#fff"/>
<ellipse cx="767" cy="430.5" rx="4" ry="10" stroke="#1c1c1c" stroke-width="1.68" fill="#fff" />
<path d="M776,419 Q772,430 776,440" stroke="#1c1c1c" stroke-width="1.20" fill="none" />
<line x1="760" y1="441" x2="765" y2="470" stroke="#1c1c1c" stroke-width="1.44"/>
<text transform="translate(765,483) scale(0.72,1)" font-size="12" text-anchor="middle" class="lb">17</text>
<defs>
<linearGradient id="face" x1="0" y1="0" x2="1" y2="1"><stop offset="0" stop-color="#c4c4c4"/><stop offset="1" stop-color="#a2a2a2"/></linearGradient>
<radialGradient id="boot" cx="0.45" cy="0.4" r="0.65"><stop offset="0" stop-color="#4a4a4a"/><stop offset="0.7" stop-color="#262626"/><stop offset="1" stop-color="#1a1a1a"/></radialGradient>
<radialGradient id="hub" cx="0.5" cy="0.5" r="0.55"><stop offset="0" stop-color="#9c9a98"/><stop offset="0.8" stop-color="#858382"/><stop offset="1" stop-color="#5a5a5a"/></radialGradient>
<linearGradient id="case" x1="0" y1="0" x2="1" y2="1"><stop offset="0" stop-color="#c6c6c6"/><stop offset="0.5" stop-color="#cecece"/><stop offset="1" stop-color="#c4c4c4"/></linearGradient>
<filter id="soft" x="-5%" y="-5%" width="110%" height="110%"><feGaussianBlur stdDeviation="0.55"/></filter>
</defs>
<g filter="url(#soft)">
<clipPath id="silclip"><path d="M12.0,443.0 L40.0,432.0 L58.0,418.0 L80.0,409.0 L100.0,398.0 L120.0,389.0 L146.0,378.0 L164.0,373.0 L176.0,384.0 L181.0,400.0 L184.0,428.0 L187.0,442.0 L205.0,453.0 L220.0,456.0 L241.0,466.0 L259.0,489.0 L266.0,507.0 L263.0,530.0 L250.0,546.0 L229.0,561.0 L205.0,588.0 L195.0,598.0 L188.0,592.0 L174.0,585.0 L153.0,575.0 L144.0,580.0 L144.0,586.0 L131.0,582.0 L100.0,574.0 L88.0,582.0 L77.0,585.0 L66.0,580.0 L61.0,567.0 L66.0,548.0 L72.0,535.0 L74.0,518.0 L62.0,510.0 L55.0,504.0 L48.0,497.0 L41.0,490.0 L35.0,484.0 L30.0,477.0 L29.0,473.0 Z"/></clipPath>
<path d="M12.0,443.0 L40.0,432.0 L58.0,418.0 L80.0,409.0 L100.0,398.0 L120.0,389.0 L146.0,378.0 L164.0,373.0 L176.0,384.0 L181.0,400.0 L184.0,428.0 L187.0,442.0 L205.0,453.0 L220.0,456.0 L241.0,466.0 L259.0,489.0 L266.0,507.0 L263.0,530.0 L250.0,546.0 L229.0,561.0 L205.0,588.0 L195.0,598.0 L188.0,592.0 L174.0,585.0 L153.0,575.0 L144.0,580.0 L144.0,586.0 L131.0,582.0 L100.0,574.0 L88.0,582.0 L77.0,585.0 L66.0,580.0 L61.0,567.0 L66.0,548.0 L72.0,535.0 L74.0,518.0 L62.0,510.0 L55.0,504.0 L48.0,497.0 L41.0,490.0 L35.0,484.0 L30.0,477.0 L29.0,473.0 Z" fill="url(#case)"/>
<g clip-path="url(#silclip)">
<path d="M72,520 L100,512 L130,498 L150,488 L140,540 L132,590 L110,590 L90,588 L70,588 L63,580 L61,565 L66,548 L72,535 Z" fill="#c4c4c4"/>
<path d="M150,488 L190,462 L205,470 L230,478 L215,500 L180,520 L150,540 L140,540 Z" fill="#c2c2c2"/>
<path d="M187,442 L205,453 L220,456 L241,466 L259,489 L266,507 L263,530 L250,546 L225,520 L205,495 L190,475 L180,460 Z" fill="#d4d4d4"/>
<path d="M195,470 L240,468 L256,495 L250,520 L230,505 L210,480 Z" fill="#dcdcdc"/>
<path d="M140,540 L175,520 L200,528 L215,548 L200,575 L185,596 L150,600 L138,592 Z" fill="#c6c6c6"/>
<path d="M145,555 L175,535 L190,560 L175,585 L150,590 Z" fill="#d2d2d2"/>
<path d="M215,548 L250,546 L229,561 L205,588 L200,575 Z" fill="#b4b4b4"/>
<path d="M150,470 L175,462 L185,475 L165,490 Z" fill="#b0b0b0"/>
<path d="M95,515 L130,500 L135,520 L110,530 Z" fill="#d8d8d8"/>
<path d="M136,522 L175,497 L192,490 L200,470 L212,457 L232,453 L256,478 L265,504" stroke="#ededed" stroke-width="3" fill="none"/>
<path d="M136,526 L175,501 L194,494 L203,474 L214,461 L231,457 L253,480 L261,505" stroke="#8a8a8a" stroke-width="1.3" fill="none"/>
<path d="M132,528 L134,592" stroke="#808080" stroke-width="1.4" fill="none"/>
<path d="M136,528 L138,590" stroke="#efefef" stroke-width="1.8" fill="none"/>
<path d="M142,566 L180,548 L205,536" stroke="#e8e8e8" stroke-width="2.2" fill="none"/>
<path d="M142,569 L180,551 L205,539" stroke="#8a8a8a" stroke-width="1.1" fill="none"/>
<path d="M200,528 L235,515 L262,520" stroke="#8a8a8a" stroke-width="1.1" fill="none"/>
<path d="M175,590 L215,548 L241,538" stroke="#8c8c8c" stroke-width="1.1" fill="none"/>
<path d="M259,489 L266,507 L262,523 L241,538" stroke="#9a9a9a" stroke-width="2" fill="none"/>
<path d="M148,470 L150,520" stroke="#999" stroke-width="3" fill="none"/>
<path d="M143,470 L145,520" stroke="#eaeaea" stroke-width="2" fill="none"/>
<path d="M187,442 L205,453 L220,456 L241,466 L259,489" stroke="#e2e2e2" stroke-width="2" fill="none"/>
<circle cx="186" cy="538" r="11" fill="#d8d8d8"/><circle cx="186" cy="538" r="9" fill="#5a5a5a"/><circle cx="186" cy="538" r="7" fill="#a0a0a0"/>
<path d="M176,538 L184,535 L189,548 L181,551 Z" fill="#4a4a4a"/><circle cx="181" cy="547" r="4.5" fill="#555"/>
<circle cx="176" cy="580" r="5" fill="#5a5a5a"/><circle cx="176" cy="580" r="2.5" fill="#999"/>
<circle cx="190" cy="592" r="3" fill="#666"/>
<circle cx="216" cy="508" r="4" fill="#555"/><circle cx="216" cy="508" r="2" fill="#888"/>
<circle cx="227" cy="515" r="2.6" fill="#ecece0"/>
<circle cx="163" cy="589" r="2" fill="#666"/>
<circle cx="248" cy="483" r="2" fill="#777"/>
<circle cx="258" cy="500" r="2.2" fill="#7a7a7a"/>
<circle cx="262" cy="512" r="2.2" fill="#7a7a7a"/>
<circle cx="256" cy="526" r="2.2" fill="#7a7a7a"/>
<circle cx="245" cy="534" r="2.2" fill="#7a7a7a"/>
<circle cx="203" cy="484" r="2.2" fill="#7a7a7a"/>
<circle cx="170" cy="497" r="2.2" fill="#7a7a7a"/>
<circle cx="120" cy="540" r="2.2" fill="#7a7a7a"/>
<circle cx="108" cy="528" r="2.2" fill="#7a7a7a"/>
<path d="M168,447 L180,450 L178,458 L168,455 Z" fill="#7a6a60"/>
</g>
<path d="M12,443 L40,432 L52,440 L60,462 L60,467 L31,474 Z" fill="url(#face)"/>
<path d="M12,443 L40,432" stroke="#e6e6e6" stroke-width="1.5"/>
<path d="M40.0,432.0 L58.0,420.0 L80.0,411.0 L99.0,397.0 L132.0,383.0 L159.0,374.0 L167.0,372.5 L174.0,384.5 L180.0,398.0 L179.0,399.0 L155.0,410.0 L120.0,431.0 L60.0,467.0 Z" fill="#d2d2d2"/>
<path d="M48.1,426.6 L67.4,462.6" stroke="#9c9c9c" stroke-width="1.8"/>
<path d="M51.3,424.5 L70.3,460.8" stroke="#ececec" stroke-width="1.5"/>
<path d="M56.2,421.2 L74.7,458.2" stroke="#9c9c9c" stroke-width="1.8"/>
<path d="M59.5,419.4 L77.6,456.4" stroke="#ececec" stroke-width="1.5"/>
<path d="M64.9,417.2 L82.1,453.8" stroke="#9c9c9c" stroke-width="1.8"/>
<path d="M68.5,415.7 L85.0,452.0" stroke="#ececec" stroke-width="1.5"/>
<path d="M73.9,413.5 L89.4,449.4" stroke="#9c9c9c" stroke-width="1.8"/>
<path d="M77.5,412.0 L92.4,447.6" stroke="#ececec" stroke-width="1.5"/>
<path d="M82.5,409.1 L96.8,444.9" stroke="#9c9c9c" stroke-width="1.8"/>
<path d="M85.7,406.8 L99.7,443.2" stroke="#ececec" stroke-width="1.5"/>
<path d="M90.3,403.4 L104.1,440.5" stroke="#9c9c9c" stroke-width="1.8"/>
<path d="M93.5,401.1 L107.1,438.8" stroke="#ececec" stroke-width="1.5"/>
<path d="M98.2,397.6 L111.5,436.1" stroke="#9c9c9c" stroke-width="1.8"/>
<path d="M101.6,395.9 L114.4,434.4" stroke="#ececec" stroke-width="1.5"/>
<path d="M107.0,393.6 L118.8,431.7" stroke="#9c9c9c" stroke-width="1.8"/>
<path d="M110.6,392.1 L121.8,429.9" stroke="#ececec" stroke-width="1.5"/>
<path d="M115.9,389.8 L126.2,427.3" stroke="#9c9c9c" stroke-width="1.8"/>
<path d="M119.5,388.3 L129.1,425.5" stroke="#ececec" stroke-width="1.5"/>
<path d="M124.9,386.0 L133.5,422.9" stroke="#9c9c9c" stroke-width="1.8"/>
<path d="M128.4,384.5 L136.5,421.1" stroke="#ececec" stroke-width="1.5"/>
<path d="M133.8,382.4 L140.9,418.5" stroke="#9c9c9c" stroke-width="1.8"/>
<path d="M137.5,381.2 L143.8,416.7" stroke="#ececec" stroke-width="1.5"/>
<path d="M143.1,379.3 L148.2,414.1" stroke="#9c9c9c" stroke-width="1.8"/>
<path d="M146.7,378.1 L151.2,412.3" stroke="#ececec" stroke-width="1.5"/>
<path d="M152.3,376.2 L155.6,409.7" stroke="#9c9c9c" stroke-width="1.8"/>
<path d="M156.0,375.0 L158.7,408.3" stroke="#ececec" stroke-width="1.5"/>
<path d="M161.6,373.5 L163.4,406.1" stroke="#9c9c9c" stroke-width="1.8"/>
<path d="M165.4,372.8 L166.5,404.7" stroke="#ececec" stroke-width="1.5"/>
<path d="M169.1,376.1 L171.2,402.6" stroke="#9c9c9c" stroke-width="1.8"/>
<path d="M171.1,379.5 L174.3,401.1" stroke="#ececec" stroke-width="1.5"/>
<path d="M174.0,384.5 L179.0,399.0" stroke="#9c9c9c" stroke-width="1.8"/>
<path d="M40.0,432.0 L58.0,420.0 L80.0,411.0 L99.0,397.0 L132.0,383.0 L159.0,374.0 L167.0,372.5 L174.0,384.5" stroke="#e6e6e6" stroke-width="1.6" fill="none"/>
<path d="M31.0,474.0 L60.0,467.0 L120.0,431.0 L155.0,410.0 L179.0,399.0 L182.0,400.0 L187.0,440.0 L165.0,455.0 L135.0,478.0 L100.0,498.0 L62.0,511.0 L52.0,505.0 L45.0,499.0 L39.0,492.0 L34.0,485.0 L30.0,478.0 Z" fill="#5c5c5c"/>
<path d="M32.5,475.9 L40.8,473.8 L49.0,471.8 L57.2,469.8 L64.9,466.7 L72.2,462.4 L79.4,458.1 L86.7,453.8 L93.9,449.4 L101.2,445.1 L108.4,440.7 L115.7,436.4 L122.9,432.0 L130.1,427.6 L137.3,423.3 L144.5,418.9 L151.8,414.5 L159.2,410.5 L166.8,406.9 L174.5,403.4 L182.2,402.0" stroke="#d2d2d2" stroke-width="3.3" fill="none" stroke-linecap="round"/>
<path d="M32.5,474.7 L40.8,472.6 L49.0,470.6 L57.2,468.6 L64.9,465.5 L72.2,461.2 L79.4,456.9 L86.7,452.6 L93.9,448.2 L101.2,443.9 L108.4,439.5 L115.7,435.2 L122.9,430.8 L130.1,426.4 L137.3,422.1 L144.5,417.7 L151.8,413.3 L159.2,409.3 L166.8,405.7 L174.5,402.2 L182.2,400.8" stroke="#f0f0f0" stroke-width="0.8" fill="none"/>
<path d="M37.0,481.1 L45.0,479.1 L53.0,477.0 L61.0,474.9 L68.6,471.9 L75.8,467.9 L83.0,463.8 L90.1,459.6 L97.2,455.4 L104.3,451.2 L111.4,446.9 L118.5,442.7 L125.5,438.3 L132.5,434.0 L139.5,429.6 L146.5,425.2 L153.5,420.8 L160.7,416.8 L168.1,413.1 L175.5,409.5 L183.0,407.7" stroke="#d2d2d2" stroke-width="3.3" fill="none" stroke-linecap="round"/>
<path d="M37.0,479.9 L45.0,477.9 L53.0,475.8 L61.0,473.7 L68.6,470.7 L75.8,466.7 L83.0,462.6 L90.1,458.4 L97.2,454.2 L104.3,450.0 L111.4,445.7 L118.5,441.5 L125.5,437.1 L132.5,432.8 L139.5,428.4 L146.5,424.0 L153.5,419.6 L160.7,415.6 L168.1,411.9 L175.5,408.3 L183.0,406.5" stroke="#f0f0f0" stroke-width="0.8" fill="none"/>
<path d="M41.4,486.4 L49.2,484.3 L57.0,482.2 L64.8,480.1 L72.3,477.2 L79.4,473.5 L86.5,469.6 L93.4,465.5 L100.4,461.4 L107.4,457.3 L114.3,453.1 L121.3,449.0 L128.1,444.7 L134.8,440.3 L141.6,435.9 L148.4,431.5 L155.2,427.1 L162.2,423.1 L169.3,419.3 L176.4,415.6 L183.7,413.4" stroke="#d2d2d2" stroke-width="3.3" fill="none" stroke-linecap="round"/>
<path d="M41.4,485.2 L49.2,483.1 L57.0,481.0 L64.8,478.9 L72.3,476.0 L79.4,472.3 L86.5,468.4 L93.4,464.3 L100.4,460.2 L107.4,456.1 L114.3,451.9 L121.3,447.8 L128.1,443.5 L134.8,439.1 L141.6,434.7 L148.4,430.3 L155.2,425.9 L162.2,421.9 L169.3,418.1 L176.4,414.4 L183.7,412.2" stroke="#f0f0f0" stroke-width="0.8" fill="none"/>
<path d="M45.8,491.7 L53.4,489.5 L61.0,487.4 L68.6,485.2 L76.0,482.4 L83.0,479.0 L90.0,475.4 L96.8,471.4 L103.6,467.4 L110.5,463.3 L117.3,459.3 L124.1,455.3 L130.7,451.0 L137.2,446.6 L143.8,442.2 L150.3,437.8 L156.9,433.4 L163.6,429.3 L170.5,425.5 L177.4,421.7 L184.4,419.1" stroke="#d2d2d2" stroke-width="3.3" fill="none" stroke-linecap="round"/>
<path d="M45.8,490.5 L53.4,488.3 L61.0,486.2 L68.6,484.0 L76.0,481.2 L83.0,477.8 L90.0,474.2 L96.8,470.2 L103.6,466.2 L110.5,462.1 L117.3,458.1 L124.1,454.1 L130.7,449.8 L137.2,445.4 L143.8,441.0 L150.3,436.6 L156.9,432.2 L163.6,428.1 L170.5,424.3 L177.4,420.5 L184.4,417.9" stroke="#f0f0f0" stroke-width="0.8" fill="none"/>
<path d="M50.3,497.0 L57.7,494.8 L65.0,492.6 L72.4,490.4 L79.6,487.7 L86.7,484.6 L93.5,481.1 L100.2,477.2 L106.9,473.3 L113.5,469.4 L120.2,465.5 L126.9,461.7 L133.3,457.3 L139.6,452.9 L145.9,448.5 L152.3,444.1 L158.6,439.7 L165.1,435.6 L171.8,431.7 L178.4,427.9 L185.1,424.9" stroke="#d2d2d2" stroke-width="3.3" fill="none" stroke-linecap="round"/>
<path d="M50.3,495.8 L57.7,493.6 L65.0,491.4 L72.4,489.2 L79.6,486.5 L86.7,483.4 L93.5,479.9 L100.2,476.0 L106.9,472.1 L113.5,468.2 L120.2,464.3 L126.9,460.5 L133.3,456.1 L139.6,451.7 L145.9,447.3 L152.3,442.9 L158.6,438.5 L165.1,434.4 L171.8,430.5 L178.4,426.7 L185.1,423.7" stroke="#f0f0f0" stroke-width="0.8" fill="none"/>
<path d="M54.7,502.3 L61.9,500.0 L69.1,497.8 L76.3,495.5 L83.3,492.9 L90.3,490.1 L97.1,486.9 L103.6,483.1 L110.1,479.3 L116.6,475.5 L123.2,471.7 L129.7,468.0 L135.9,463.6 L142.0,459.2 L148.1,454.8 L154.2,450.4 L160.3,446.0 L166.6,441.9 L173.0,437.9 L179.4,434.0 L185.8,430.6" stroke="#d2d2d2" stroke-width="3.3" fill="none" stroke-linecap="round"/>
<path d="M54.7,501.1 L61.9,498.8 L69.1,496.6 L76.3,494.3 L83.3,491.7 L90.3,488.9 L97.1,485.7 L103.6,481.9 L110.1,478.1 L116.6,474.3 L123.2,470.5 L129.7,466.8 L135.9,462.4 L142.0,458.0 L148.1,453.6 L154.2,449.2 L160.3,444.8 L166.6,440.7 L173.0,436.7 L179.4,432.8 L185.8,429.4" stroke="#f0f0f0" stroke-width="0.8" fill="none"/>
<path d="M59.1,507.6 L66.1,505.3 L73.1,502.9 L80.1,500.6 L87.0,498.2 L93.9,495.7 L100.6,492.6 L107.0,489.0 L113.3,485.3 L119.7,481.6 L126.1,477.9 L132.5,474.3 L138.4,470.0 L144.3,465.6 L150.2,461.1 L156.1,456.7 L162.0,452.3 L168.1,448.2 L174.2,444.1 L180.4,440.1 L186.5,436.3" stroke="#d2d2d2" stroke-width="3.3" fill="none" stroke-linecap="round"/>
<path d="M59.1,506.4 L66.1,504.1 L73.1,501.7 L80.1,499.4 L87.0,497.0 L93.9,494.5 L100.6,491.4 L107.0,487.8 L113.3,484.1 L119.7,480.4 L126.1,476.7 L132.5,473.1 L138.4,468.8 L144.3,464.4 L150.2,459.9 L156.1,455.5 L162.0,451.1 L168.1,447.0 L174.2,442.9 L180.4,438.9 L186.5,435.1" stroke="#f0f0f0" stroke-width="0.8" fill="none"/>
<circle cx="84" cy="468" r="1.3" fill="#f4f4f4"/>
<circle cx="95" cy="488" r="1.3" fill="#f4f4f4"/>
<circle cx="118" cy="455" r="1.3" fill="#f4f4f4"/>
<circle cx="125" cy="470" r="1.3" fill="#f4f4f4"/>
<circle cx="60" cy="492" r="1.3" fill="#f4f4f4"/>
<circle cx="88" cy="477" r="1.3" fill="#f4f4f4"/>
<ellipse cx="171.8" cy="437.0" rx="12.600000000000001" ry="11.399999999999999" fill="#3a3a3a"/>
<ellipse cx="176" cy="434" rx="12" ry="12" fill="url(#boot)"/>
<ellipse cx="176.0" cy="434" rx="8.64" ry="10.8" stroke="#5e5e5e" stroke-width="1" fill="none"/>
<ellipse cx="177.2" cy="434" rx="6.912000000000001" ry="8.64" stroke="#5e5e5e" stroke-width="1" fill="none"/>
<ellipse cx="178.4" cy="434" rx="5.184000000000001" ry="6.48" stroke="#5e5e5e" stroke-width="1" fill="none"/>
<ellipse cx="179.6" cy="434" rx="3.4560000000000004" ry="4.32" stroke="#5e5e5e" stroke-width="1" fill="none"/>
<circle cx="164.6" cy="441.8" r="2.64" fill="#cfcfcf" stroke="#555" stroke-width="0.8"/>
<ellipse cx="146.45" cy="457.25" rx="13.65" ry="12.35" fill="#3a3a3a"/>
<ellipse cx="151" cy="454" rx="13" ry="13" fill="url(#boot)"/>
<ellipse cx="151.0" cy="454" rx="9.360000000000001" ry="11.700000000000001" stroke="#5e5e5e" stroke-width="1" fill="none"/>
<ellipse cx="152.2" cy="454" rx="7.4879999999999995" ry="9.36" stroke="#5e5e5e" stroke-width="1" fill="none"/>
<ellipse cx="153.4" cy="454" rx="5.6160000000000005" ry="7.0200000000000005" stroke="#5e5e5e" stroke-width="1" fill="none"/>
<ellipse cx="154.6" cy="454" rx="3.7439999999999998" ry="4.68" stroke="#5e5e5e" stroke-width="1" fill="none"/>
<circle cx="138.65" cy="462.45" r="2.86" fill="#cfcfcf" stroke="#555" stroke-width="0.8"/>
<ellipse cx="115.75" cy="483.75" rx="15.75" ry="14.25" fill="#3a3a3a"/>
<ellipse cx="121" cy="480" rx="15" ry="15" fill="url(#boot)"/>
<ellipse cx="121.0" cy="480" rx="10.8" ry="13.5" stroke="#5e5e5e" stroke-width="1" fill="none"/>
<ellipse cx="122.2" cy="480" rx="8.639999999999999" ry="10.799999999999999" stroke="#5e5e5e" stroke-width="1" fill="none"/>
<ellipse cx="123.4" cy="480" rx="6.480000000000001" ry="8.100000000000001" stroke="#5e5e5e" stroke-width="1" fill="none"/>
<ellipse cx="124.6" cy="480" rx="4.319999999999999" ry="5.3999999999999995" stroke="#5e5e5e" stroke-width="1" fill="none"/>
<circle cx="106.75" cy="489.75" r="3.3" fill="#cfcfcf" stroke="#555" stroke-width="0.8"/>
<path d="M74,518 L100,522 L115,535 L118,560 L104,576 L80,570 L70,545 Z" fill="#bdbdbd"/>
<path d="M76,520 Q74,532 80,540" stroke="#ececec" stroke-width="2.5" fill="none"/>
<path d="M80,533 L105,527 Q116,540 112,556 L90,566 Z" fill="#aca79f"/>
<path d="M100,528 Q114,540 110,557 L104,560 Q108,545 96,531 Z" fill="#8c8780"/>
<path d="M82,536 L104,531" stroke="#d2ccc2" stroke-width="2.5"/>
<path d="M70,548 L92,540 L106,560 L100,577 L80,580 Z" fill="#8a8a8a"/>
<path d="M72.0,547.0 L80.0,576.0" stroke="#d6d6d6" stroke-width="1.6"/>
<path d="M75.3,546.1 L83.3,575.8" stroke="#d6d6d6" stroke-width="1.6"/>
<path d="M78.6,545.2 L86.6,575.6" stroke="#d6d6d6" stroke-width="1.6"/>
<path d="M81.9,544.3 L89.9,575.4" stroke="#d6d6d6" stroke-width="1.6"/>
<path d="M85.2,543.4 L93.2,575.2" stroke="#d6d6d6" stroke-width="1.6"/>
<path d="M88.5,542.5 L96.5,575.0" stroke="#d6d6d6" stroke-width="1.6"/>
<path d="M91.8,541.6 L99.8,574.8" stroke="#d6d6d6" stroke-width="1.6"/>
<path d="M95.1,540.7 L103.1,574.6" stroke="#d6d6d6" stroke-width="1.6"/>
<path d="M98.4,539.8 L106.4,574.4" stroke="#d6d6d6" stroke-width="1.6"/>
<ellipse cx="76" cy="569" rx="15" ry="16" fill="url(#hub)"/>
<ellipse cx="76" cy="569" rx="15" ry="16" fill="none" stroke="#5e5e5e" stroke-width="1.2"/>
<ellipse cx="77" cy="570" rx="5" ry="5" fill="#7a7876"/>
</g>
<text transform="translate(148,369.5) scale(0.72,1)" font-size="11.5" text-anchor="middle" class="lb">20</text>
<path d="M148,372 L148.5,377" stroke="#444" stroke-width="1"/>
<text transform="translate(179.5,377.5) scale(0.72,1)" font-size="11.5" text-anchor="middle" class="lb">19</text>
<path d="M180,382 L191,425" stroke="#1c1c1c" stroke-width="1.3" stroke-dasharray="3 1.2"/>
<ellipse cx="186" cy="421" rx="4" ry="6" stroke="#1c1c1c" stroke-width="1.5" fill="none"/>
</svg></body></html>
